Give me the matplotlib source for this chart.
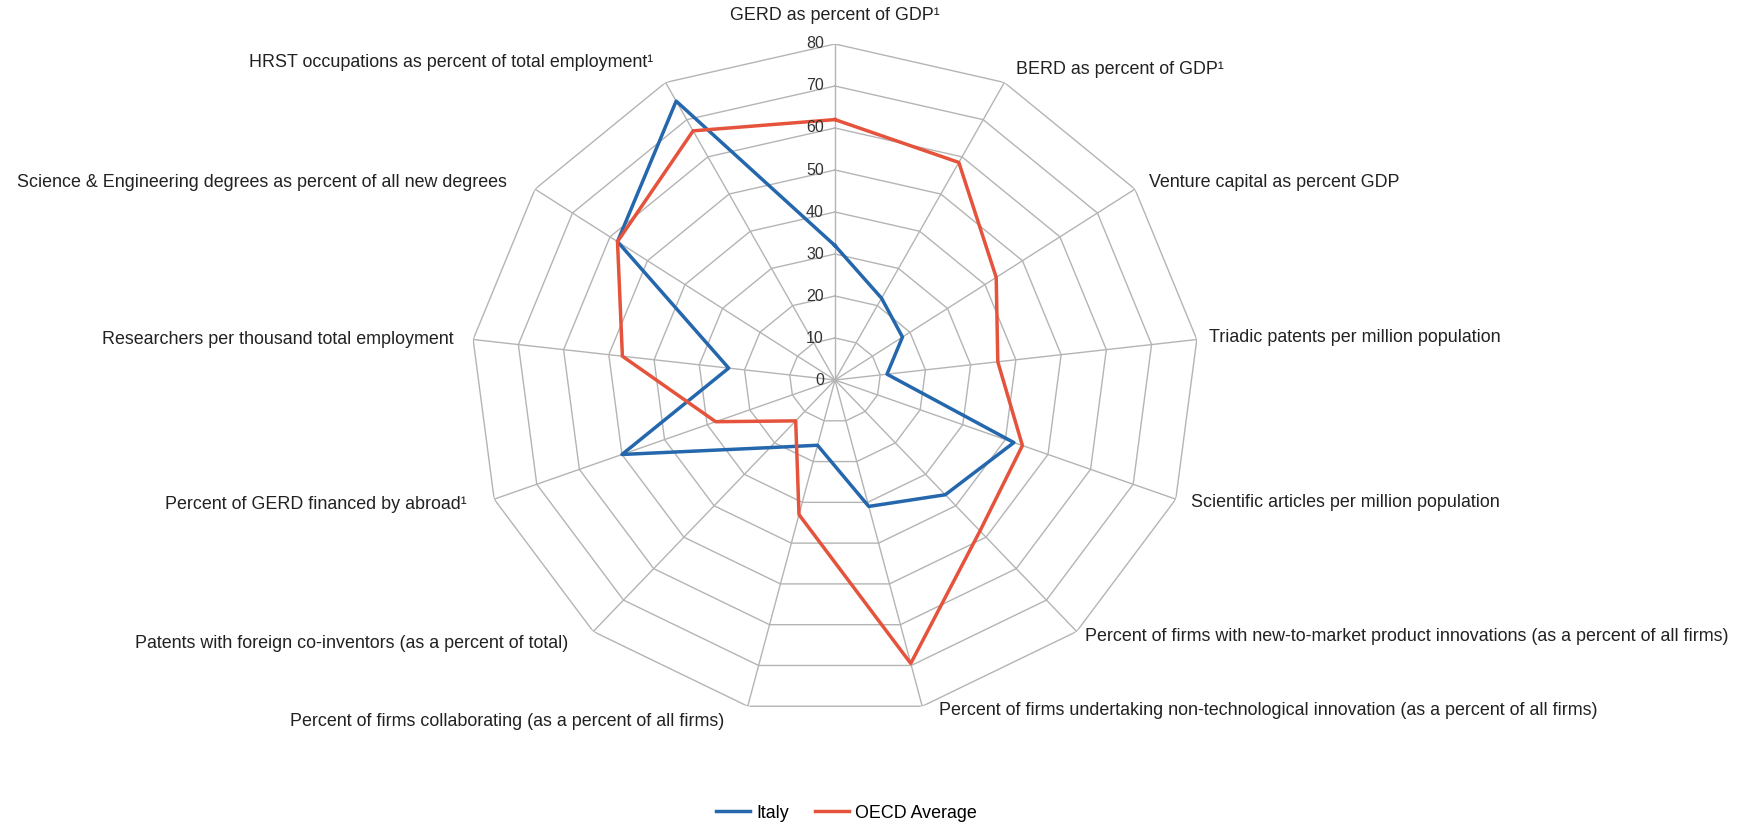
import numpy as np
from matplotlib import pyplot as plt

categories = [
    'GERD as percent of GDP¹',
    'BERD as percent of GDP¹',
    'Venture capital as percent GDP',
    'Triadic patents per million population',
    'Scientific articles per million population',
    'Percent of firms with new-to-market product innovations (as a percent of all firms)',
    'Percent of firms undertaking non-technological innovation (as a percent of all firms)',
    'Percent of firms collaborating (as a percent of all firms)',
    'Patents with foreign co-inventors (as a percent of total)',
    'Percent of GERD financed by abroad¹',
    'Researchers per thousand total employment',
    'Science & Engineering degrees as percent of all new degrees',
    'HRST occupations as percent of total employment¹',
]
italy = [32, 22, 18, 11.5, 42, 36.5, 31, 16, 21.5, 50, 23.5, 58, 75]
oecd = [62, 58.5, 43, 36, 44, 48, 69.5, 33, 13, 28, 47, 58, 67]
ring_levels = [10, 20, 30, 40, 50, 60, 70, 80]
tick_labels = ['0', '10', '20', '30', '40', '50', '60', '70', '80']

n = len(categories)
angles = np.linspace(0, 2 * np.pi, n, endpoint=False)
closed = np.append(angles, angles[0])

fig = plt.figure(figsize=(17.49, 8.27), dpi=100)
ax = fig.add_axes([0.269, 0.1342, 0.4168, 0.8126], projection='polar')
ax.set_aspect('auto')
ax.set_theta_zero_location('N')
ax.set_theta_direction(-1)
ax.set_ylim(0, 80)
ax.grid(False)
ax.spines['polar'].set_visible(False)
ax.set_xticks([])
ax.set_yticks([])

grid_col = '#b4b4b4'
# polygon rings and spokes
for r in ring_levels:
    ax.plot(closed, [r] * (n + 1), color=grid_col, lw=1.0, zorder=1)
for a in angles:
    ax.plot([a, a], [0, 80], color=grid_col, lw=1.0, zorder=1)

# series
l1, = ax.plot(closed, italy + italy[:1], color='#2467ad', lw=2.5, label='Italy', zorder=3)
l2, = ax.plot(closed, oecd + oecd[:1], color='#e5533c', lw=2.5, label='OECD Average', zorder=3)

# value scale along the top spoke
for i, t in enumerate(tick_labels):
    ax.annotate(t, xy=(0, i * 10), xytext=(-11, 0), textcoords='offset pixels',
                ha='right', va='center', fontsize=11.5, color='#333333',
                family='Liberation Sans')

# category labels around the outer ring
offsets = [(0, 28, 'center'), (12, 13, 'left'), (14, 7, 'left'), (12, 2, 'left'),
           (15, -3, 'left'), (8, -5, 'left'), (17, -4, 'left'), (-23, -15, 'right'),
           (-25, -12, 'right'), (-28, -5, 'right'), (-20, 0, 'right'),
           (-28, 7, 'right'), (-12, 20, 'right')]
for a, lab, (dx, dy, ha) in zip(angles, categories, offsets):
    ax.annotate(lab, xy=(a, 80), xytext=(dx, dy), textcoords='offset pixels',
                ha=ha, va='center', fontsize=12.9, color='#222222',
                family='Liberation Sans', annotation_clip=False)

fig.legend(handles=[l1, l2], loc='lower center', bbox_to_anchor=(0.484, -0.013),
           ncol=2, frameon=False, handlelength=1.9, handletextpad=0.35,
           columnspacing=1.4, prop={'family': 'Liberation Sans', 'size': 12.9})

fig.savefig('out.png', dpi=100)
